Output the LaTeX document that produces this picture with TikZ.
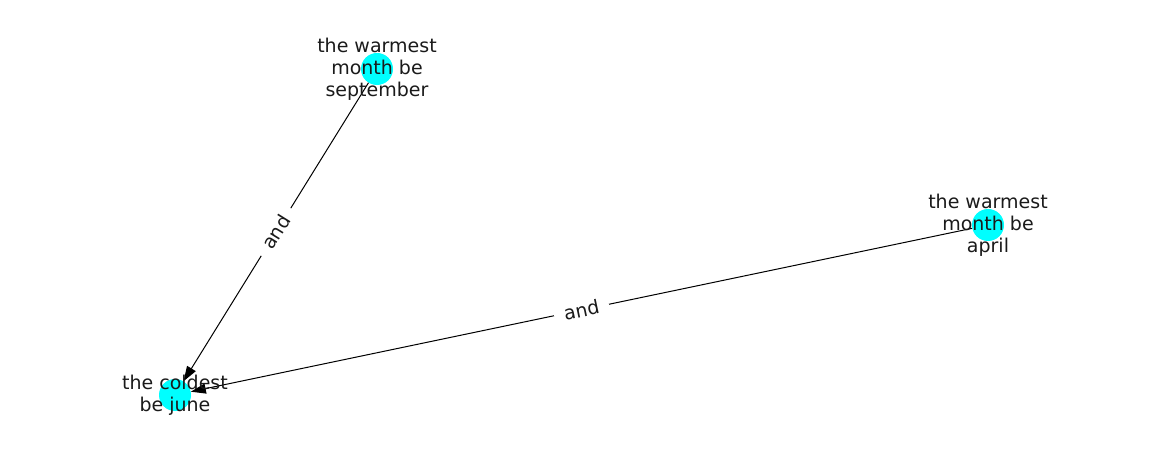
\documentclass[tikz,border=0pt]{standalone}
\usepackage{fontspec}
\setmainfont{DejaVu Sans}
\usetikzlibrary{arrows.meta}

\definecolor{nodecyan}{HTML}{00FFFF}
\definecolor{inkgray}{HTML}{1A1A1A}

\tikzset{
    dot/.style={circle, fill=nodecyan, minimum size=32pt, inner sep=0pt},
    caption/.style={font=\fontsize{19}{22}\selectfont, text=inkgray, align=center},
    relation/.style={-{Triangle[length=15pt, width=10pt]}, draw=black, line width=1pt},
    rellabel/.style={font=\fontsize{19}{22}\selectfont, text=inkgray, fill=white,
        inner xsep=10pt, inner ysep=4pt, sloped}
}

\begin{document}
\begin{tikzpicture}[x=1pt, y=-1pt]

    % ==========================================
    % 1. CANVAS
    % ==========================================
    \useasboundingbox (0,0) rectangle (1162,462);

    % ==========================================
    % 2. STATEMENT NODES
    % ==========================================
    \node[dot] (warmsep) at (377, 69) {};
    \node[dot] (warmapr) at (988, 225) {};
    \node[dot] (coldjun) at (175, 395) {};

    % ==========================================
    % 3. RELATIONS
    % ==========================================
    \draw[relation] (warmsep) -- (coldjun) node[rellabel, pos=0.5] {and};
    \draw[relation] (warmapr) -- (coldjun) node[rellabel, pos=0.5] {and};

    % ==========================================
    % 4. STATEMENT TEXTS
    % ==========================================
    \node[caption] (warmseptext) at (warmsep) {the warmest\\month be\\september};
    \node[caption] (warmaprtext) at (warmapr) {the warmest\\month be\\april};
    \node[caption] (coldjuntext) at (coldjun) {the coldest\\be june};

\end{tikzpicture}
\end{document}
